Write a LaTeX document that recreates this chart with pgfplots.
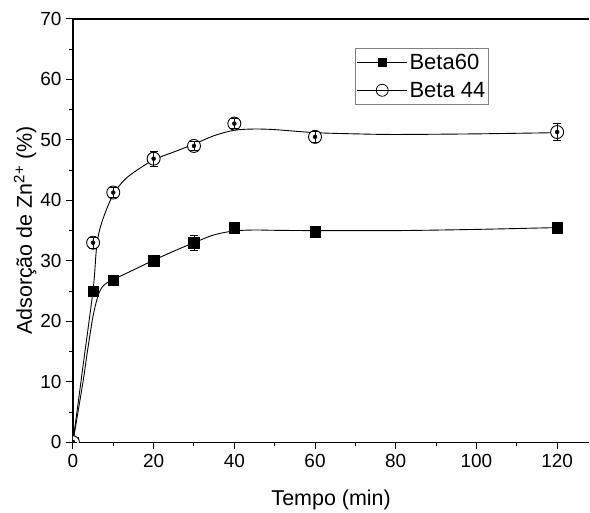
\documentclass[border=0pt]{standalone}
\usepackage{fontspec}
\setmainfont{Liberation Sans}
\usepackage{pgfplots}
\usepackage{pgfplotstable}
\pgfplotsset{compat=1.18}

% measured adsorption (mean and error)
\pgfplotstableread{
t   y    e
0   0    0
5   25.0 0.5
10  26.8 0.5
20  30.0 0.5
30  33.0 1.2
40  35.5 0.5
60  34.8 0.6
120 35.5 0.5
}\betasixty

\pgfplotstableread{
t   y    e
0   0    0
5   33.0 0.9
10  41.3 0.8
20  46.9 1.25
30  49.0 0.8
40  52.7 0.8
60  50.5 0.9
120 51.3 1.4
}\betafortyfour

% kinetic fit curves
\pgfplotstableread{
t   y
0   0
2.5 10.0
3.5 14.6
4.8 20.2
5.6 22.7
6.4 24.6
7.3 25.7
8.3 26.3
10  26.9
15  28.5
20  30.1
25  31.6
30  33.0
35  34.3
40  34.95
45  35.1
50  35.05
60  35.0
80  35.0
100 35.2
120 35.5
}\fitsixty

\pgfplotstableread{
t   y
0   0
2.5 12.6
5   25.2
5.8 31.8
6.5 34.8
7.8 37.6
10  41.0
12.5 43.2
15  44.6
20  46.7
25  48.0
30  49.3
35  50.7
40  51.6
45  51.8
50  51.7
60  51.2
70  51.0
80  50.9
100 51.0
120 51.2
}\fitfortyfour

\begin{document}
\begin{tikzpicture}
\begin{axis}[
  name=ax,
  scale only axis,
  width=517bp, height=423.7bp,
  xmin=0, xmax=128, ymin=0, ymax=70,
  axis x line*=bottom, axis y line*=left,
  axis line style={line width=1.2bp, black, -},
  xtick={0,20,...,120}, minor xtick={10,30,...,110},
  ytick={0,10,...,70}, minor ytick={5,15,...,65},
  tick align=outside,
  major tick length=7bp, minor tick length=4bp,
  every tick/.style={line width=1bp, black},
  clip marker paths=true,
  /pgf/number format/assume math mode=true,
  tick label style={font=\fontsize{19bp}{22bp}\selectfont},
  xticklabel style={yshift=-1bp},
  yticklabel style={xshift=-1bp},
  xlabel={Tempo (min)},
  ylabel={Adsorção de Zn\textsuperscript{2+} (\%)},
  label style={font=\fontsize{21.5bp}{24bp}\selectfont},
  xlabel style={at={(rel axis cs:0.5,0)}, anchor=base, yshift=-63bp},
  ylabel style={at={(rel axis cs:0,0.5)}, anchor=base, yshift=41bp},
  legend style={
    at={(rel axis cs:0.547,0.932)}, anchor=north west,
    draw=gray, line width=0.8bp,
    font=\fontsize{22bp}{25bp}\selectfont,
    inner xsep=1bp, inner ysep=4bp,
    row sep=7bp,
    nodes={inner sep=2bp},
  },
  legend cell align=left,
  legend image code/.code={
    \draw[mark repeat=2, mark phase=2, #1]
      plot coordinates {(0bp,0bp) (25bp,0bp) (50bp,0bp)};
  },
]
\addlegendimage{black, line width=0.8bp, mark=square*, mark size=4.2bp, mark options={solid, fill=black}}
\addlegendentry{Beta60}
\addlegendimage{black, line width=0.8bp, mark=o, mark size=6bp, mark options={solid, fill=white}}
\addlegendentry{Beta 44}

% fit curves
\addplot[black, line width=0.9bp, smooth, tension=0.5, mark=none, forget plot]
  table[x=t, y=y] {\fitsixty};
\addplot[black, line width=0.9bp, smooth, tension=0.5, mark=none, forget plot]
  table[x=t, y=y] {\fitfortyfour};

% data points
\addplot[only marks, mark=square*, mark size=5.3bp,
  mark options={black, fill=black}, forget plot]
  table[x=t, y=y] {\betasixty};
\addplot[only marks, mark=*, mark size=6.5bp,
  mark options={black, fill=white, line width=0.9bp}, forget plot]
  table[x=t, y=y] {\betafortyfour};

% error bars
\addplot[only marks, mark=none, forget plot,
  error bars/.cd, y dir=both, y explicit,
  error bar style={black, line width=0.8bp},
  error mark options={rotate=90, mark size=4bp, black, line width=0.8bp}]
  table[x=t, y=y, y error=e] {\betasixty};
\addplot[only marks, mark=none, forget plot,
  error bars/.cd, y dir=both, y explicit,
  error bar style={black, line width=0.8bp},
  error mark options={rotate=90, mark size=4bp, black, line width=0.8bp}]
  table[x=t, y=y, y error=e] {\betafortyfour};
\end{axis}
% top frame line
\draw[line width=1.2bp, black] (ax.north west) -- (ax.north east);
% page extent
\path ([shift={(-73bp,-67.3bp)}]ax.south west) rectangle ([shift={(0bp,19bp)}]ax.north east);
\end{tikzpicture}
\end{document}
